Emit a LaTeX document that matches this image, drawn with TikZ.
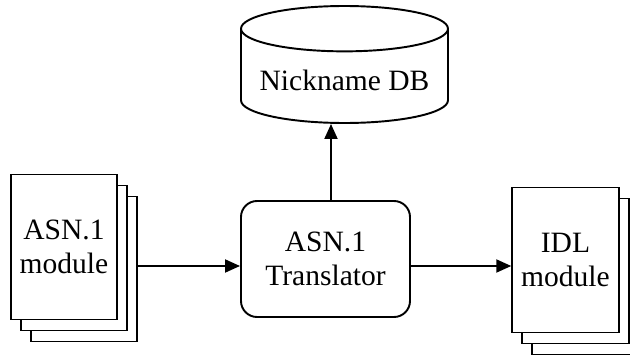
\documentclass[tikz,border=0pt]{standalone}
\usepackage{fontspec}
\setmainfont{Liberation Serif}
\usetikzlibrary{arrows.meta,shapes.geometric,shadows}
\tikzset{
  box/.style={draw, fill=white, line width=1.1pt, align=center,
    font=\fontsize{16.8pt}{19.4pt}\selectfont},
  sheet/.style={box, minimum width=2.13cm, minimum height=2.9cm,
    copy shadow={shadow xshift=0.4cm, shadow yshift=-0.44cm, draw},
    copy shadow={shadow xshift=0.2cm, shadow yshift=-0.22cm, draw}},
  arr/.style={-{Triangle[length=0.3cm,width=0.26cm]}, line width=1.1pt}
}
\begin{document}
\begin{tikzpicture}
  \useasboundingbox (0,0) rectangle (12.6,7.12);
  \node[sheet] (asn) at (1.28,2.18) {ASN.1\\module};
  \node[box, rounded corners=0.32cm, minimum width=3.38cm, minimum height=2.32cm]
    (tr) at (6.51,1.94) {ASN.1\\Translator};
  \node[box, cylinder, shape border rotate=90, aspect=0.25, anchor=shape center,
    minimum width=4.14cm, minimum height=2.34cm]
    (db) at (6.89,5.83) {Nickname DB};
  \node[sheet] (idl) at (11.31,1.92) {IDL\\module};
  \coordinate (in) at ([yshift=-0.14cm]tr.west);
  \draw[arr] ([xshift=0.4cm]asn.east |- in) -- (in);
  \draw[arr] (tr.east |- in) -- (idl.west |- in);
  \draw[arr] ([xshift=0.11cm]tr.north) -- ([xshift=-0.27cm]db.south);
\end{tikzpicture}
\end{document}
